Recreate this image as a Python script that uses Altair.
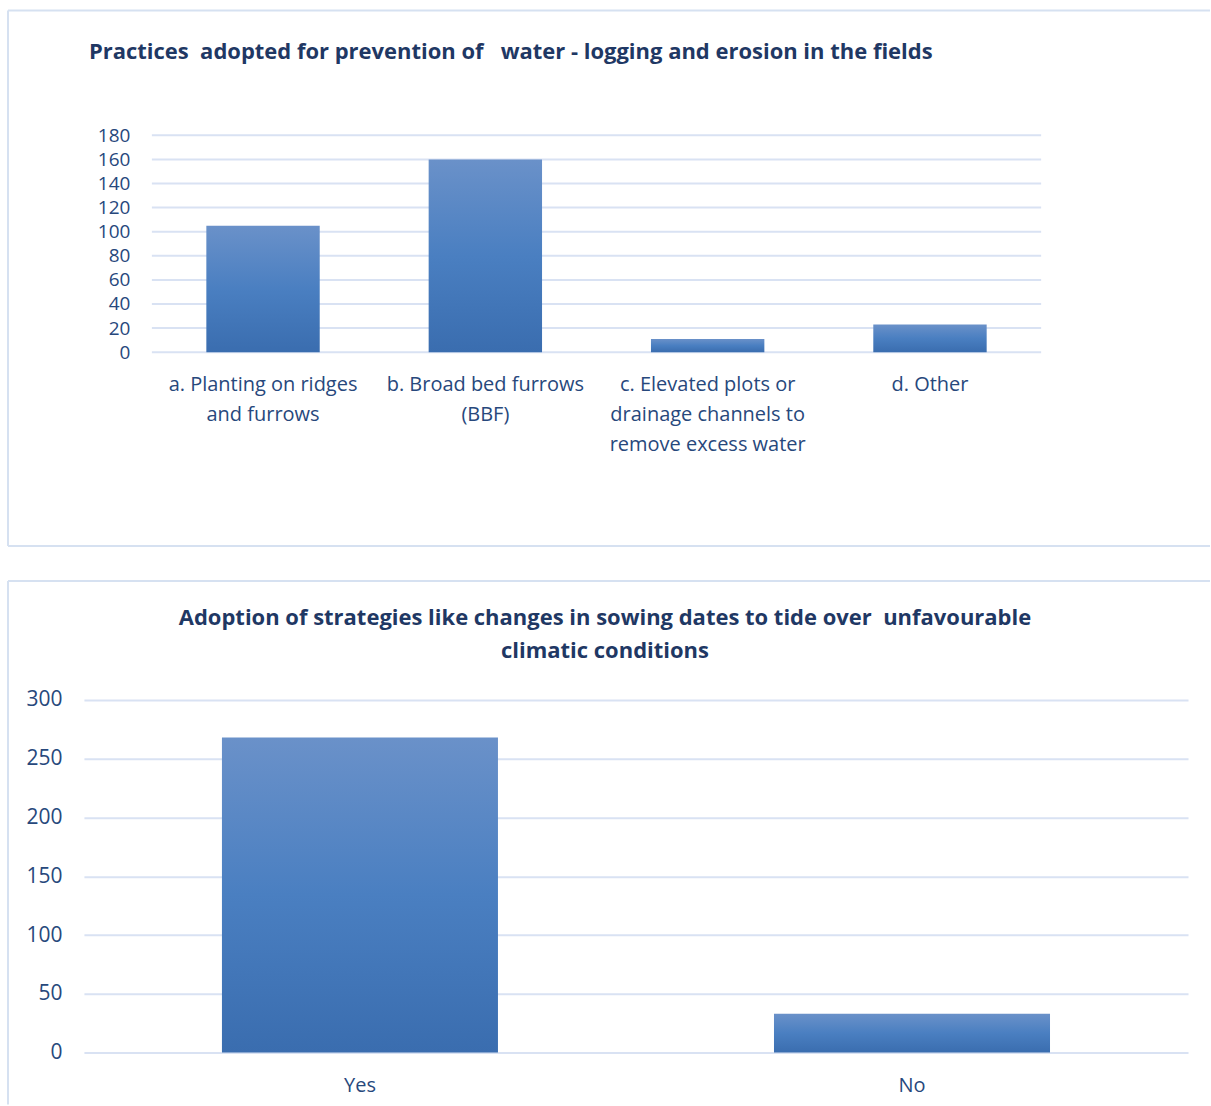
import altair as alt
import pandas as pd

# ---------------- data ----------------
practices = [
    "a. Planting on ridges\nand furrows",
    "b. Broad bed furrows\n(BBF)",
    "c. Elevated plots or\ndrainage channels to\nremove excess water",
    "d. Other",
]
practice_counts = [105, 160, 11, 23]
top_ticks = [0, 20, 40, 60, 80, 100, 120, 140, 160, 180]
top_title = "Practices\u00a0 adopted for prevention of \u00a0 water - logging and erosion in the fields"

answers = ["Yes", "No"]
answer_counts = [268, 33]
bottom_ticks = [0, 50, 100, 150, 200, 250, 300]
bottom_title = [
    "Adoption of strategies like changes in sowing dates to tide over \u00a0unfavourable",
    "climatic conditions",
]

# ---------------- style ----------------
TITLE_FONT = "Open Sans"
FONT = "Open Sans"
TITLE_COLOR = "#1F3864"
LABEL_COLOR = "#27487C"
GRID_COLOR = "#D9E2F3"
BORDER_COLOR = "#D6E1F1"
BAR_FILL = {
    "gradient": "linear",
    "x1": 0, "x2": 0, "y1": 0, "y2": 1,
    "stops": [
        {"offset": 0, "color": "#6A91C9"},
        {"offset": 0.5, "color": "#4A7FC1"},
        {"offset": 1, "color": "#3A6DAF"},
    ],
}

one = pd.DataFrame({"k": [0]})


def border(left, top, right, bottom, with_bottom=True):
    rules = [
        alt.Chart(one).mark_rule(color=BORDER_COLOR, strokeWidth=2).encode(
            x=alt.value(left), x2=alt.value(right), y=alt.value(top)),
        alt.Chart(one).mark_rule(color=BORDER_COLOR, strokeWidth=2).encode(
            x=alt.value(left), y=alt.value(top), y2=alt.value(bottom)),
    ]
    if with_bottom:
        rules.append(alt.Chart(one).mark_rule(color=BORDER_COLOR, strokeWidth=2).encode(
            x=alt.value(left), x2=alt.value(right), y=alt.value(bottom)))
    return rules


# ---------------- top chart ----------------
top_df = pd.DataFrame({"practice": practices, "count": practice_counts})
top_grid_df = pd.DataFrame({"count": top_ticks})

TOP_W, TOP_H = 958, 217

top_y = alt.Y("count:Q", title=None,
              scale=alt.Scale(domain=[0, 180], nice=False),
              axis=alt.Axis(values=top_ticks, domain=False, ticks=False, grid=False,
                            offset=-68, labelFont=FONT, labelFontSize=19,
                            labelColor=LABEL_COLOR, labelPadding=22))

top_grid = alt.Chart(top_grid_df).mark_rule(color=GRID_COLOR, strokeWidth=2).encode(
    y=top_y,
    x=alt.value(68), x2=alt.value(958),
)

top_bars = alt.Chart(top_df).mark_bar(color=BAR_FILL).encode(
    x=alt.X("practice:N", sort=practices, title=None,
            scale=alt.Scale(range=[68, 958], paddingInner=0.49, paddingOuter=0.245),
            axis=alt.Axis(labelAngle=0, domain=False, ticks=False, grid=False,
                          labelFont=FONT, labelFontSize=20, labelColor=LABEL_COLOR,
                          labelPadding=22, labelLineHeight=30, labelLimit=400,
                          labelExpr="split(datum.label, '\\n')")),
    y=top_y,
)

top_chart = alt.layer(
    *border(-76, -125, 1127, 411), top_grid, top_bars
).properties(
    width=TOP_W, height=TOP_H,
    title=alt.TitleParams(text=top_title, anchor="start", frame="group", dx=5,
                          offset=-55, font=TITLE_FONT, fontSize=22, fontWeight="bold",
                          color=TITLE_COLOR),
)

# ---------------- bottom chart ----------------
bot_df = pd.DataFrame({"answer": answers, "count": answer_counts})

BOT_W, BOT_H = 1105, 353

bot_bars = alt.Chart(bot_df).mark_bar(color=BAR_FILL).encode(
    x=alt.X("answer:N", sort=answers, title=None,
            scale=alt.Scale(paddingInner=0.5, paddingOuter=0.25),
            axis=alt.Axis(labelAngle=0, domain=False, ticks=False, grid=False,
                          labelFont=FONT, labelFontSize=20, labelColor=LABEL_COLOR,
                          labelPadding=23)),
    y=alt.Y("count:Q", title=None,
            scale=alt.Scale(domain=[0, 300], nice=False),
            axis=alt.Axis(values=bottom_ticks, domain=False, ticks=False, grid=True,
                          gridColor=GRID_COLOR, gridWidth=2,
                          labelFont=FONT, labelFontSize=21, labelColor=LABEL_COLOR,
                          labelPadding=22)),
)

bot_chart = alt.layer(
    *border(-76, -119, 1127, 405, with_bottom=False), bot_bars
).properties(
    width=BOT_W, height=BOT_H,
    title=alt.TitleParams(text=bottom_title, anchor="middle", frame="group", dx=-31,
                          offset=-83, lineHeight=33, font=TITLE_FONT, fontSize=22,
                          fontWeight="bold", color=TITLE_COLOR),
)

chart = alt.vconcat(top_chart, bot_chart, spacing=33).properties(
    padding={"left": 7, "top": 9, "right": 0, "bottom": 0},
    background="white",
).configure_view(stroke=None)

chart.save("out.html", embed_options={"renderer": "svg", "actions": False})
